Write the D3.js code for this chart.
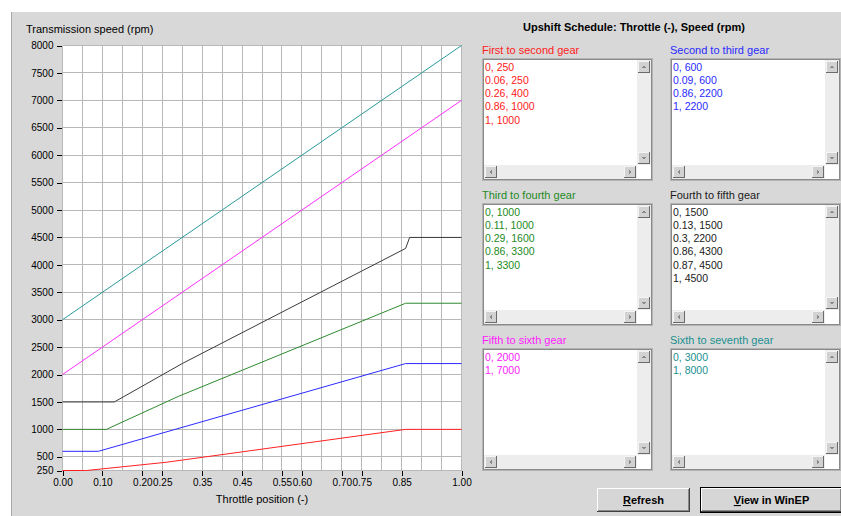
<!DOCTYPE html>
<html>
<head>
<meta charset="utf-8">
<script src="https://cdn.jsdelivr.net/npm/d3@7"></script>
<style>
  body { margin: 0; background: #ffffff; }
  svg { display: block; font-family: "Liberation Sans", Arial, sans-serif; }
</style>
</head>
<body>
<svg id="chart" width="841" height="516"></svg>
<script>
// Upshift schedule: throttle position (-) vs transmission speed (rpm)
const throttleTicks = [0, 0.10, 0.20, 0.25, 0.35, 0.45, 0.55, 0.60, 0.70, 0.75, 0.85, 1.00];
const speedTicks = [250, 500, 1000, 1500, 2000, 2500, 3000, 3500, 4000, 4500, 5000, 5500, 6000, 6500, 7000, 7500, 8000];

const gearNames = [
  "First to second gear", "Second to third gear",
  "Third to fourth gear", "Fourth to fifth gear",
  "Fifth to sixth gear", "Sixth to seventh gear"
];
const firstToSecond = [[0, 250], [0.06, 250], [0.26, 400], [0.86, 1000], [1, 1000]];
const secondToThird = [[0, 600], [0.09, 600], [0.86, 2200], [1, 2200]];
const thirdToFourth = [[0, 1000], [0.11, 1000], [0.29, 1600], [0.86, 3300], [1, 3300]];
const fourthToFifth = [[0, 1500], [0.13, 1500], [0.3, 2200], [0.86, 4300], [0.87, 4500], [1, 4500]];
const fifthToSixth = [[0, 2000], [1, 7000]];
const sixthToSeventh = [[0, 3000], [1, 8000]];

const schedules = [firstToSecond, secondToThird, thirdToFourth, fourthToFifth, fifthToSixth, sixthToSeventh];
const lineColors = ["#ff2020", "#2a2aff", "#2e8b2e", "#3a3a3a", "#ff30ff", "#2a9a9a"];
const textColors = ["#ff2020", "#2a2aff", "#1e8a1e", "#1a1a1a", "#ff20ff", "#1a9090"];

const svg = d3.select("#chart");

// window background
svg.append("rect").attr("x", 11).attr("y", 12).attr("width", 830).attr("height", 504).attr("fill", "#d8d8d8");
svg.append("line").attr("x1", 11.5).attr("x2", 11.5).attr("y1", 12).attr("y2", 516)
  .attr("stroke", "#a8a8a8");

// ---------- plot ----------
const x = d3.scaleLinear().domain([0, 1]).range([62.5, 461.5]);
const y = d3.scaleLinear().domain([250, 8000]).range([470.5, 45.5]);

svg.append("rect")
  .attr("x", x(0)).attr("y", y(8000))
  .attr("width", x(1) - x(0)).attr("height", y(250) - y(8000))
  .attr("fill", "#ffffff");

const grid = svg.append("g").attr("shape-rendering", "crispEdges");
grid.selectAll("line.v").data(d3.range(0, 21).map(i => i / 20)).join("line")
  .attr("x1", d => x(d)).attr("x2", d => x(d))
  .attr("y1", y(8000)).attr("y2", y(250))
  .attr("stroke", "#b8b8b8");
grid.selectAll("line.h").data(speedTicks).join("line")
  .attr("x1", x(0)).attr("x2", x(1))
  .attr("y1", d => y(d)).attr("y2", d => y(d))
  .attr("stroke", "#b8b8b8");

const yAxis = svg.append("g")
  .attr("transform", `translate(${x(0) - 1},0)`)
  .call(d3.axisLeft(y).tickValues(speedTicks).tickFormat(d3.format("d")).tickSize(5).tickPadding(3));
yAxis.select(".domain").remove();
yAxis.selectAll("line").attr("stroke", "#000").attr("shape-rendering", "crispEdges");
yAxis.selectAll("text").attr("font-size", 10).attr("fill", "#000")
  .attr("font-family", "Liberation Sans, Arial, sans-serif");

const xAxis = svg.append("g")
  .attr("transform", `translate(0,${y(250)})`)
  .call(d3.axisBottom(x).tickValues(throttleTicks).tickFormat(d3.format(".2f")).tickSize(5).tickPadding(3));
xAxis.select(".domain").remove();
xAxis.selectAll("line").attr("stroke", "#000").attr("shape-rendering", "crispEdges");
xAxis.selectAll("text").attr("font-size", 10).attr("fill", "#000")
  .attr("font-family", "Liberation Sans, Arial, sans-serif");

svg.append("text").attr("x", 26).attr("y", 33).attr("font-size", 11).attr("fill", "#000")
  .text("Transmission speed (rpm)");
svg.append("text").attr("x", (x(0) + x(1)) / 2).attr("y", 503).attr("text-anchor", "middle")
  .attr("font-size", 11).attr("fill", "#000").text("Throttle position (-)");

const line = d3.line().x(d => x(d[0])).y(d => y(d[1]));
svg.append("g").selectAll("path").data(schedules).join("path")
  .attr("d", line).attr("fill", "none")
  .attr("stroke", (d, i) => lineColors[i]).attr("stroke-width", 1);

// ---------- schedule lists ----------
svg.append("text").attr("x", 634).attr("y", 31).attr("text-anchor", "middle")
  .attr("font-size", 11).attr("font-weight", "bold").attr("fill", "#000")
  .text("Upshift Schedule: Throttle (-), Speed (rpm)");

function bevelButton(g, bx, by, bw, bh) {
  g.append("rect").attr("x", bx).attr("y", by).attr("width", bw).attr("height", bh).attr("fill", "#d2d2d2");
  g.append("path").attr("d", `M${bx + 0.5},${by + bh} V${by + 0.5} H${bx + bw}`).attr("stroke", "#f4f4f4").attr("fill", "none");
  g.append("path").attr("d", `M${bx},${by + bh - 0.5} H${bx + bw - 0.5} V${by}`).attr("stroke", "#6a6a6a").attr("fill", "none");
}
function arrow(g, cx, cy, dir) {
  const s = 2.5;
  const pts = {
    up: [[cx - s, cy + 1.2], [cx + s, cy + 1.2], [cx, cy - 1.8]],
    down: [[cx - s, cy - 1.2], [cx + s, cy - 1.2], [cx, cy + 1.8]],
    left: [[cx + 1.2, cy - s], [cx + 1.2, cy + s], [cx - 1.8, cy]],
    right: [[cx - 1.2, cy - s], [cx - 1.2, cy + s], [cx + 1.8, cy]]
  }[dir];
  g.append("polygon").attr("points", pts.map(p => p.join(",")).join(" ")).attr("fill", "#8a8a8a");
}

function listBox(i, bx, by) {
  const w = 171, h = 123;
  const g = svg.append("g").attr("shape-rendering", "crispEdges");
  svg.append("text").attr("x", bx).attr("y", by - 4).attr("font-size", 11)
    .attr("fill", textColors[i]).text(gearNames[i]);
  g.append("rect").attr("x", bx + 0.5).attr("y", by + 0.5).attr("width", w - 1).attr("height", h - 1)
    .attr("fill", "#ffffff").attr("stroke", "#b4b4b4");
  g.append("rect").attr("x", bx + 1.5).attr("y", by + 1.5).attr("width", w - 3).attr("height", h - 3)
    .attr("fill", "none").attr("stroke", "#8a8a8a");
  const sx = bx + w - 16, sy = by + h - 16;
  // vertical scrollbar
  g.append("rect").attr("x", sx).attr("y", by + 2).attr("width", 14).attr("height", sy - by - 2).attr("fill", "#ededed");
  bevelButton(g, sx + 1, by + 3, 12, 12);
  arrow(g, sx + 7, by + 9, "up");
  bevelButton(g, sx + 1, sy - 13, 12, 12);
  arrow(g, sx + 7, sy - 7, "down");
  // horizontal scrollbar
  g.append("rect").attr("x", bx + 2).attr("y", sy).attr("width", sx - bx - 2).attr("height", 14).attr("fill", "#ededed");
  bevelButton(g, bx + 3, sy + 1, 12, 12);
  arrow(g, bx + 9, sy + 7, "left");
  bevelButton(g, sx - 13, sy + 1, 12, 12);
  arrow(g, sx - 7, sy + 7, "right");
  g.append("rect").attr("x", sx).attr("y", sy).attr("width", 14).attr("height", 14).attr("fill", "#ffffff");
  // entries
  svg.append("g").selectAll("text").data(schedules[i]).join("text")
    .attr("x", bx + 3).attr("y", (d, k) => by + 12.5 + k * 13.3)
    .attr("font-size", 10.5).attr("fill", textColors[i])
    .text(d => `${d[0]}, ${d[1]}`);
}

const colX = [482, 670], rowY = [58, 203, 348];
gearNames.forEach((n, i) => listBox(i, colX[i % 2], rowY[Math.floor(i / 2)]));

// ---------- buttons ----------
function pushButton(bx, by, bw, bh, first, rest, isDefault) {
  const g = svg.append("g").attr("shape-rendering", "crispEdges");
  if (isDefault) {
    g.append("rect").attr("x", bx - 0.5).attr("y", by - 0.5).attr("width", bw + 1).attr("height", bh + 1)
      .attr("fill", "none").attr("stroke", "#000");
  }
  g.append("rect").attr("x", bx).attr("y", by).attr("width", bw).attr("height", bh).attr("fill", "#d6d6d6");
  g.append("path").attr("d", `M${bx + 0.5},${by + bh} V${by + 0.5} H${bx + bw}`).attr("stroke", "#ffffff").attr("fill", "none");
  g.append("path").attr("d", `M${bx},${by + bh - 0.5} H${bx + bw - 0.5} V${by}`).attr("stroke", "#404040").attr("fill", "none");
  g.append("path").attr("d", `M${bx + 1},${by + bh - 1.5} H${bx + bw - 1.5} V${by + 1}`).attr("stroke", "#8a8a8a").attr("fill", "none");
  const t = svg.append("text").attr("x", bx + bw / 2).attr("y", by + bh / 2 + 4).attr("text-anchor", "middle")
    .attr("font-size", 11).attr("font-weight", "bold").attr("fill", "#000");
  t.append("tspan").attr("text-decoration", "underline").text(first);
  t.append("tspan").text(rest);
}
pushButton(597, 488, 93, 24, "R", "efresh", false);
pushButton(701, 488, 141, 24, "V", "iew in WinEP", true);
</script>
</body>
</html>
